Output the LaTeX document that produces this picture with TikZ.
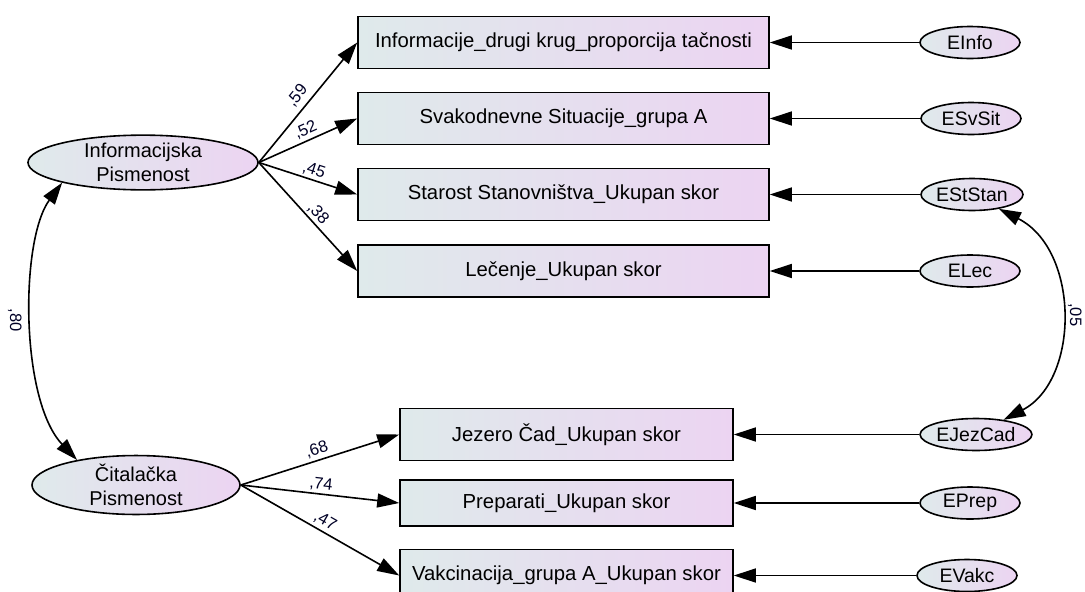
\documentclass[tikz,border=0pt]{standalone}
\usepackage{fontspec}
\setmainfont{Liberation Sans}
\usetikzlibrary{arrows.meta,shapes.geometric}
\definecolor{fillL}{HTML}{DFEAEB}
\definecolor{fillR}{HTML}{ECD4F2}
\begin{document}
\begin{tikzpicture}[x=1pt,y=-1pt,
  obs/.style={draw, line width=1.6pt, left color=fillL, right color=fillR,
    minimum height=52pt, inner sep=0pt, font=\fontsize{20.3}{22}\selectfont},
  lat/.style={draw, ellipse, line width=1.6pt, left color=fillL, right color=fillR,
    inner sep=0pt, align=center, font=\fontsize{20}{24}\selectfont},
  err/.style={draw, ellipse, line width=1.6pt, left color=fillL, right color=fillR,
    minimum width=100pt, minimum height=32pt, inner sep=0pt, font=\fontsize{19.5}{21}\selectfont},
  path/.style={-{Triangle[length=22pt,width=14pt]}, line width=1.6pt},
  cov/.style={{Triangle[length=22pt,width=14pt]}-{Triangle[length=22pt,width=14pt]}, line width=1.6pt},
  coef/.style={font=\fontsize{16.5}{18}\selectfont, inner sep=1pt, text=black!85!blue},
]
\useasboundingbox (0,0) rectangle (1085,592);

% observed indicators
\node[obs, minimum width=411pt] (b1) at (563.5,42.5) {Informacije\_drugi krug\_proporcija tačnosti};
\node[obs, minimum width=411pt] (b2) at (563.5,118.5) {Svakodnevne Situacije\_grupa A};
\node[obs, minimum width=411pt] (b3) at (563.5,194.5) {Starost Stanovništva\_Ukupan skor};
\node[obs, minimum width=411pt] (b4) at (563.5,271) {Lečenje\_Ukupan skor};
\node[obs, minimum width=333pt] (b5) at (566.5,434.5) {Jezero Čad\_Ukupan skor};
\node[obs, minimum width=333pt, minimum height=46pt] (b6) at (566.5,503) {Preparati\_Ukupan skor};
\node[obs, minimum width=333pt] (b7) at (566.5,575.5) {Vakcinacija\_grupa A\_Ukupan skor};

% latent factors
\node[lat, minimum width=230pt, minimum height=51pt] (info) at (143,162.5) {Informacijska\\Pismenost};
\node[lat, minimum width=208pt, minimum height=56pt] (cit) at (136,485) {Čitalačka\\Pismenost};

% error terms
\node[err] (eInfo) at (970,42.5) {EInfo};
\node[err] (eSv) at (971,118.5) {ESvSit};
\node[err, minimum width=102pt] (eSt) at (972,194.5) {EStStan};
\node[err] (eLe) at (970,271) {ELec};
\node[err, minimum width=104pt] (eJe) at (976,434.5) {EJezCad};
\node[err] (ePr) at (970,503) {EPrep};
\node[err] (eVa) at (967,575.5) {EVakc};

% loadings
\draw[path] (info.east) -- node[coef, pos=.49, above=4pt, sloped] {,59} (b1.west);
\draw[path] (info.east) -- node[coef, pos=.52, above=2pt, sloped] {,52} (b2.west);
\draw[path] (info.east) -- node[coef, pos=.53, above=1pt, sloped] {,45} (b3.west);
\draw[path] (info.east) -- node[coef, pos=.53, above=1pt, sloped] {,38} (b4.west);
\draw[path] (cit.east) -- node[coef, pos=.5, above=2pt, sloped] {,68} (b5.west);
\draw[path] (cit.east) -- node[coef, pos=.5, above=1pt, sloped] {,74} (b6.west);
\draw[path] (cit.east) -- node[coef, pos=.5, above=2pt, sloped] {,47} (b7.west);

% covariances
\draw[cov] (info.194) .. controls (20,240) and (20,400) .. node[coef, pos=.5, rotate=-90, below=9pt] {,80} (cit.157);
\draw[cov] (eSt.-28) .. controls (1080,250) and (1080,380) .. node[coef, pos=.5, rotate=-90, above=6pt] {,05} (eJe.28);

% residuals
\draw[path] (eInfo) -- (b1);
\draw[path] (eSv) -- (b2);
\draw[path] (eSt) -- (b3);
\draw[path] (eLe) -- (b4);
\draw[path] (eJe) -- (b5);
\draw[path] (ePr) -- (b6);
\draw[path] (eVa) -- (b7);
\end{tikzpicture}
\end{document}
